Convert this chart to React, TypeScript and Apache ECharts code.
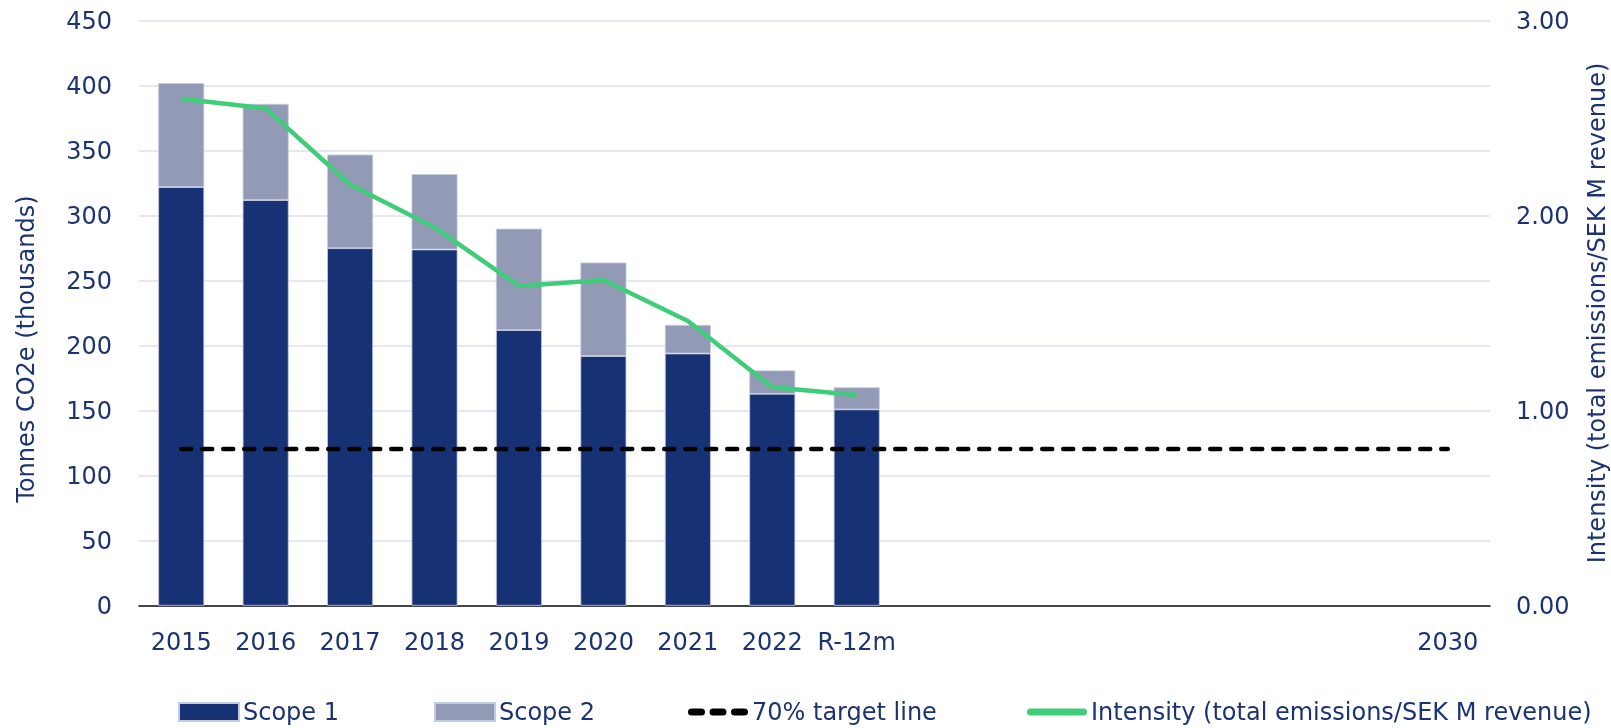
import React, { useEffect, useRef } from "react";
import * as echarts from "echarts";

const categories = ["2015", "2016", "2017", "2018", "2019", "2020", "2021", "2022", "R-12m", "", "", "", "", "", "", "2030"];
const scope1 = [322, 312, 275, 274, 212, 192, 194, 163, 151];
const scope2 = [80, 74, 72, 58, 78, 72, 22, 18, 17];
const intensity = [2.6, 2.55, 2.16, 1.94, 1.64, 1.67, 1.46, 1.12, 1.08];
const targetValue = 120.5;
const leftAxisName = "Tonnes CO2e (thousands)";
const rightAxisName = "Intensity (total emissions/SEK M revenue)";
const seriesNames = ["Scope 1", "Scope 2", "70% target line", "Intensity (total emissions/SEK M revenue)"];

const NAVY = "#163275";
const GREY = "#939ab6";
const GREEN = "#3fcd7a";
const TEXT = "#1b3371";
const FONT = "DejaVu Sans";

const DASH_ICON =
  "path://M3.5,0 H13.5 A3.5,3.5 0 0 1 13.5,7 H3.5 A3.5,3.5 0 0 1 3.5,0 Z " +
  "M25,0 H35 A3.5,3.5 0 0 1 35,7 H25 A3.5,3.5 0 0 1 25,0 Z " +
  "M46.5,0 H56.5 A3.5,3.5 0 0 1 56.5,7 H46.5 A3.5,3.5 0 0 1 46.5,0 Z";
const LINE_ICON = "path://M3.5,0 H56.5 A3.5,3.5 0 0 1 56.5,7 H3.5 A3.5,3.5 0 0 1 3.5,0 Z";

export default function App() {
  const ref = useRef<HTMLDivElement>(null);
  useEffect(() => {
    if (!ref.current) return;
    const chart = echarts.init(ref.current, null, { renderer: "svg" });
    const target = categories.map(() => targetValue);
    const legendLefts = [178, 434, 688, 1027];
    const legendIcons = ["rect", "rect", DASH_ICON, LINE_ICON];
    const legends = seriesNames.map((name, i) => ({
      left: legendLefts[i],
      top: 700,
      padding: 0,
      itemWidth: 60,
      itemHeight: 18,
      symbolKeepAspect: true,
      textStyle: { fontFamily: FONT, fontSize: 24, color: TEXT, padding: [0, 0, 0, -1] },
      data: [{ name, icon: legendIcons[i] }],
    }));
    chart.setOption({
      animation: false,
      textStyle: { fontFamily: FONT, color: TEXT },
      grid: { left: 139, right: 121, top: 20.7, bottom: 122.3, containLabel: false },
      legend: legends,
      xAxis: {
        type: "category",
        data: categories,
        axisLine: { lineStyle: { color: "#111", width: 1.5 } },
        axisTick: { show: false },
        axisLabel: { interval: 0, fontFamily: FONT, fontSize: 24, color: TEXT, margin: 24 },
      },
      yAxis: [
        {
          type: "value",
          min: 0,
          max: 450,
          interval: 50,
          axisLine: { show: false },
          axisTick: { show: false },
          axisLabel: { fontFamily: FONT, fontSize: 24, color: TEXT, margin: 27 },
          splitLine: { lineStyle: { color: "#dce1f1", width: 1.5 } },
        },
        {
          type: "value",
          min: 0,
          max: 3,
          interval: 1,
          position: "right",
          axisLine: { show: false },
          axisTick: { show: false },
          axisLabel: {
            fontFamily: FONT,
            fontSize: 24,
            color: TEXT,
            margin: 26,
            formatter: (v: number) => v.toFixed(2),
          },
          splitLine: { show: false },
        },
      ],
      graphic: [
        {
          type: "text",
          x: 26,
          y: 349,
          rotation: Math.PI / 2,
          style: {
            text: leftAxisName,
            fontFamily: FONT,
            fontSize: 24,
            fill: TEXT,
            align: "center",
            verticalAlign: "middle",
          },
        },
        {
          type: "text",
          x: 1609,
          y: 313,
          rotation: Math.PI / 2,
          style: {
            text: rightAxisName,
            fontFamily: FONT,
            fontSize: 24,
            fill: TEXT,
            align: "center",
            verticalAlign: "bottom",
          },
        },
      ],
      series: [
        {
          name: seriesNames[0],
          type: "bar",
          stack: "total",
          barWidth: 46,
          data: scope1,
          itemStyle: { color: NAVY, borderColor: "#c6cbe0", borderWidth: 0.8 },
        },
        {
          name: seriesNames[1],
          type: "bar",
          stack: "total",
          barWidth: 46,
          data: scope2,
          itemStyle: { color: GREY, borderColor: "#c6cbe0", borderWidth: 0.8 },
        },
        {
          name: seriesNames[2],
          type: "line",
          data: target,
          symbol: "none",
          lineStyle: { color: "#000", width: 4.5, type: [10, 11], cap: "round" },
          itemStyle: { color: "#000" },
          z: 5,
        },
        {
          name: seriesNames[3],
          type: "line",
          yAxisIndex: 1,
          data: intensity,
          symbol: "none",
          lineStyle: { color: GREEN, width: 4.5 },
          itemStyle: { color: GREEN },
          z: 6,
        },
      ],
    });
    return () => chart.dispose();
  }, []);
  return <div ref={ref} style={{ position: "fixed", left: 0, top: 0, width: 1611, height: 728 }} />;
}
